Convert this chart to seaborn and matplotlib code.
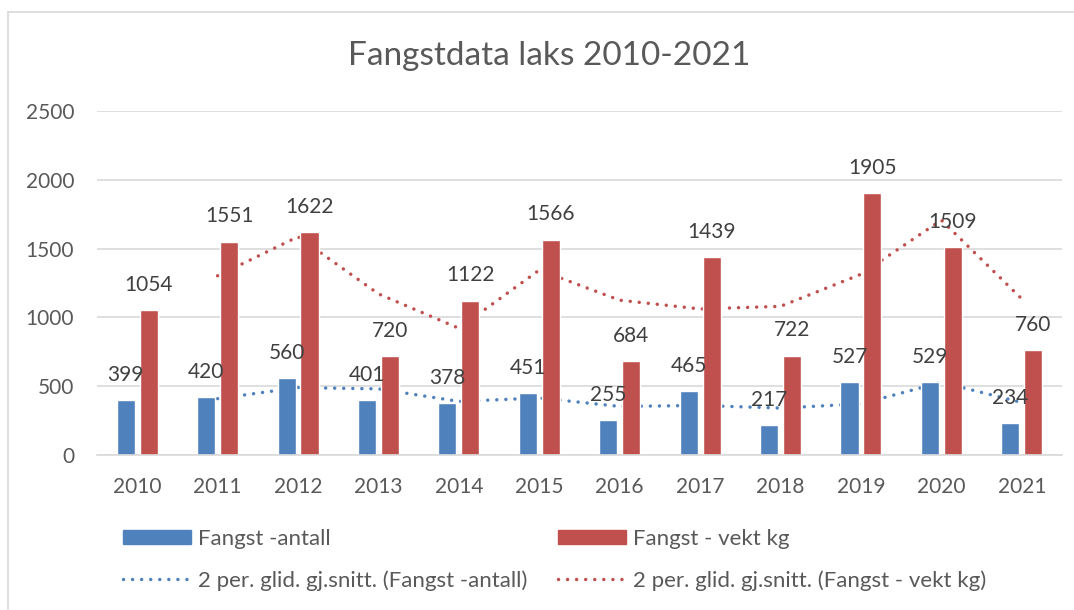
import matplotlib
matplotlib.use('Agg')
import matplotlib.pyplot as plt
import matplotlib.lines as mlines
import matplotlib.patches as mpatches
import seaborn as sns
import pandas as pd

# Data
years = ['2010', '2011', '2012', '2013', '2014', '2015',
         '2016', '2017', '2018', '2019', '2020', '2021']
antall = [399, 420, 560, 401, 378, 451, 255, 465, 217, 527, 529, 234]
vekt_kg = [1054, 1551, 1622, 720, 1122, 1566, 684, 1439, 722, 1905, 1509, 760]

name_antall = 'Fangst -antall'
name_vekt = 'Fangst - vekt kg'

BLUE = '#4F81BD'
RED = '#C0504D'
TXT = '#595959'
GRID = '#D9D9D9'
DOTS = (0, (0.01, 2.6))

sns.set_style('white')
plt.rcParams['font.family'] = ['Lato', 'DejaVu Sans']

df = pd.DataFrame({
    'year': years * 2,
    'value': antall + vekt_kg,
    'series': [name_antall] * len(years) + [name_vekt] * len(years),
})

# 2-period moving averages (Excel trendline)
ma_antall = pd.Series(antall).rolling(2).mean()
ma_vekt = pd.Series(vekt_kg).rolling(2).mean()

fig = plt.figure(figsize=(10.74, 6.10), dpi=100)
ax = fig.add_axes([97 / 1074, 1 - 455 / 610, (1062 - 97) / 1074, (455 - 111) / 610])

sns.barplot(data=df, x='year', y='value', hue='series', order=years,
            palette=[BLUE, RED], saturation=1, width=0.57, gap=0.21, ax=ax,
            legend=False, zorder=2, errorbar=None)

xs = list(range(len(years)))
ax.plot(xs, ma_antall, linestyle=DOTS, color=BLUE, lw=2.5,
        dash_capstyle='round', zorder=1)
ax.plot(xs, ma_vekt, linestyle=DOTS, color=RED, lw=2.5,
        dash_capstyle='round', zorder=1)

# data labels
for container in ax.containers:
    ax.bar_label(container, fmt='%d', padding=11, fontsize=15, color='#404040')

ax.set_ylim(0, 2500)
ax.set_xlim(-0.5, len(years) - 0.5)
ax.set_yticks(range(0, 2501, 500))
ax.yaxis.grid(True, color=GRID, lw=1.2, zorder=0)
ax.set_axisbelow(True)
for s in ['top', 'right', 'left']:
    ax.spines[s].set_visible(False)
ax.spines['bottom'].set_color(GRID)
ax.spines['bottom'].set_linewidth(1.2)
ax.tick_params(axis='both', length=0, labelsize=15, colors=TXT)
ax.tick_params(axis='y', pad=16.5)
ax.tick_params(axis='x', pad=15.5)
ax.set_xlabel('')
ax.set_ylabel('')

fig.text(549 / 1074, 1 - 56 / 610, 'Fangstdata laks 2010-2021', ha='center', va='center',
         fontsize=24, color=TXT)

handles = [
    mpatches.Patch(color=BLUE, label=name_antall),
    mlines.Line2D([], [], color=BLUE, linestyle=DOTS, lw=2.5,
                  dash_capstyle='round', label='2 per. glid. gj.snitt. (Fangst -antall)'),
    mpatches.Patch(color=RED, label=name_vekt),
    mlines.Line2D([], [], color=RED, linestyle=DOTS, lw=2.5,
                  dash_capstyle='round', label='2 per. glid. gj.snitt. (Fangst - vekt kg)'),
]
fig.legend(handles=handles, ncol=2, loc='center left',
           bbox_to_anchor=(123 / 1074, 1 - 560 / 610), frameon=False,
           borderpad=0, borderaxespad=0,
           fontsize=16, labelcolor=TXT, handlelength=3.06, handleheight=0.6,
           handletextpad=0.3, columnspacing=1.4, labelspacing=0.95)

# chart border like Excel
fig.add_artist(mlines.Line2D([8 / 1074, 1], [1 - 12 / 610, 1 - 12 / 610],
                             color=GRID, lw=1.2, transform=fig.transFigure))
fig.add_artist(mlines.Line2D([8 / 1074, 8 / 1074], [0, 1 - 12 / 610],
                             color=GRID, lw=1.2, transform=fig.transFigure))

fig.savefig('out.png', dpi=100, facecolor='white')
